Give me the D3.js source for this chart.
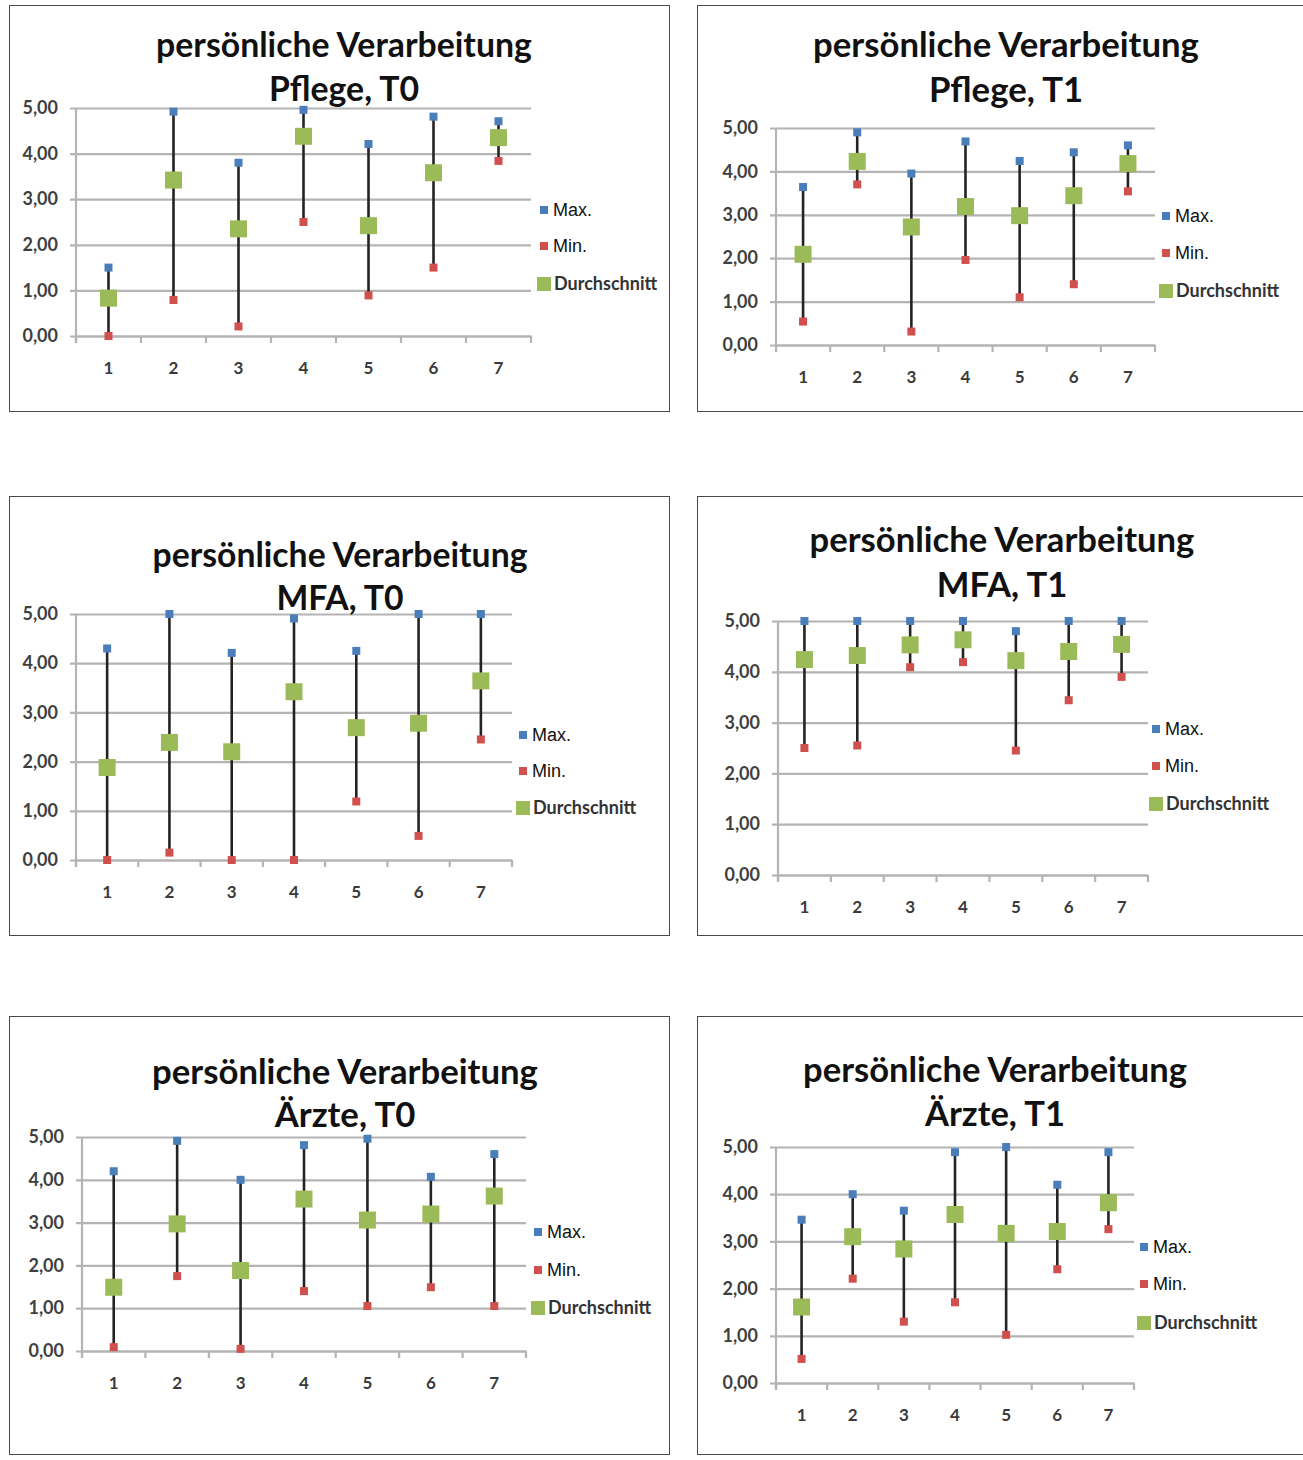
<!DOCTYPE html>
<html>
<head>
<meta charset="utf-8">
<script src="https://cdn.jsdelivr.net/npm/d3@7"></script>
<style>
  body { margin: 0; background: #fff; }
  svg { display: block; }
</style>
</head>
<body>
<svg id="chart" width="1303" height="1460"></svg>
<script>
// categories on the x axis (same for every panel)
var categories = ["1", "2", "3", "4", "5", "6", "7"];
var yTicks = [0, 1, 2, 3, 4, 5];
var seriesNames = ["Max.", "Min.", "Durchschnitt"];

var titleLine1 = "persönliche Verarbeitung";
var subTitles = ["Pflege, T0", "Pflege, T1", "MFA, T0", "MFA, T1", "Ärzte, T0", "Ärzte, T1"];

// values, one array per series and panel
var pflegeT0Max  = [1.50, 4.92, 3.80, 4.96, 4.21, 4.81, 4.71];
var pflegeT0Min  = [0.00, 0.79, 0.21, 2.50, 0.89, 1.50, 3.84];
var pflegeT0Mean = [0.83, 3.42, 2.35, 4.38, 2.42, 3.58, 4.35];

var pflegeT1Max  = [3.64, 4.90, 3.95, 4.69, 4.24, 4.44, 4.60];
var pflegeT1Min  = [0.54, 3.70, 0.31, 1.96, 1.10, 1.40, 3.54];
var pflegeT1Mean = [2.09, 4.23, 2.72, 3.19, 2.98, 3.44, 4.18];

var mfaT0Max  = [4.30, 5.00, 4.21, 4.91, 4.25, 5.00, 5.00];
var mfaT0Min  = [0.00, 0.15, 0.00, 0.00, 1.19, 0.49, 2.45];
var mfaT0Mean = [1.88, 2.39, 2.20, 3.42, 2.69, 2.78, 3.64];

var mfaT1Max  = [5.00, 5.00, 5.00, 5.00, 4.80, 5.00, 5.00];
var mfaT1Min  = [2.50, 2.55, 4.09, 4.19, 2.45, 3.44, 3.90];
var mfaT1Mean = [4.24, 4.32, 4.53, 4.63, 4.22, 4.40, 4.54];

var aerzteT0Max  = [4.20, 4.91, 4.00, 4.81, 4.96, 4.07, 4.60];
var aerzteT0Min  = [0.09, 1.75, 0.05, 1.40, 1.05, 1.49, 1.05];
var aerzteT0Mean = [1.49, 2.97, 1.88, 3.55, 3.06, 3.20, 3.62];

var aerzteT1Max  = [3.46, 4.00, 3.65, 4.89, 5.00, 4.20, 4.89];
var aerzteT1Min  = [0.51, 2.21, 1.30, 1.71, 1.02, 2.41, 3.26];
var aerzteT1Mean = [1.61, 3.10, 2.84, 3.57, 3.17, 3.21, 3.82];

var panelMax  = [pflegeT0Max, pflegeT1Max, mfaT0Max, mfaT1Max, aerzteT0Max, aerzteT1Max];
var panelMin  = [pflegeT0Min, pflegeT1Min, mfaT0Min, mfaT1Min, aerzteT0Min, aerzteT1Min];
var panelMean = [pflegeT0Mean, pflegeT1Mean, mfaT0Mean, mfaT1Mean, aerzteT0Mean, aerzteT1Mean];

var colMax = "#4a7ebb", colMin = "#d0504d", colMean = "#9bbb59";
var gridCol = "#b4b4b4";

// panel frames and plot areas (pixels)
var layout = [
  {box: [9, 5, 660, 406],     plot: [76, 531, 108, 336],   leg: [537, 210, 246, 284],    title: [344, 45, 89],     tw: 376},
  {box: [697, 5, 640, 406],   plot: [776, 1155, 128, 345], leg: [1159, 216, 253, 291],   title: [1006, 45, 90],    tw: 386},
  {box: [9, 496, 660, 439],   plot: [76, 512, 614, 860],   leg: [516, 735, 771, 808],    title: [340, 555, 598],   tw: 375},
  {box: [697, 496, 640, 439], plot: [778, 1148, 621, 875], leg: [1149, 729, 766, 804],   title: [1002, 540, 585],  tw: 385},
  {box: [9, 1016, 660, 438],  plot: [82, 526, 1137, 1351], leg: [531, 1232, 1270, 1308], title: [345, 1072, 1115], tw: 386},
  {box: [697, 1016, 640, 438],plot: [776, 1134, 1147, 1383],leg: [1137, 1247, 1284, 1323],title: [995, 1070, 1114], tw: 384}
];

var svg = d3.select("#chart");
svg.append("rect").attr("width", 1303).attr("height", 1460).attr("fill", "#fff");

var deLocale = d3.formatLocale({decimal: ",", thousands: ".", grouping: [3], currency: ["", " €"]});
var fmt = deLocale.format(".2f");

layout.forEach(function(L, i) {
  var g = svg.append("g");

  // frame
  g.append("rect")
    .attr("x", L.box[0] + 0.5).attr("y", L.box[1] + 0.5)
    .attr("width", L.box[2]).attr("height", L.box[3])
    .attr("fill", "none").attr("stroke", "#4a4a4a").attr("stroke-width", 1);

  var left = L.plot[0], right = L.plot[1], top = L.plot[2], bottom = L.plot[3];

  var x = d3.scaleBand().domain(categories).range([left, right]);
  var y = d3.scaleLinear().domain([0, 5]).range([bottom, top]);

  // gridlines + y labels
  var yAxis = d3.axisLeft(y)
    .tickValues(yTicks)
    .tickFormat(fmt)
    .tickSize(-(right - left) - 6)
    .tickPadding(12);
  var ya = g.append("g")
    .attr("transform", "translate(" + (left - 6) + ",0)")
    .call(yAxis);
  ya.select(".domain").remove();
  ya.selectAll(".tick line").attr("stroke", gridCol).attr("stroke-width", 2.2);
  ya.selectAll(".tick text")
    .attr("fill", "#3f3f3f")
    .style("font-family", "Lato, 'Open Sans', sans-serif")
    .style("font-weight", "bold")
    .style("font-size", "18px");

  // vertical axis line
  g.append("line")
    .attr("x1", left).attr("x2", left)
    .attr("y1", top).attr("y2", bottom + 7)
    .attr("stroke", gridCol).attr("stroke-width", 2.2);

  // x axis with labels at band centres
  var xa = g.append("g")
    .attr("transform", "translate(0," + bottom + ")")
    .call(d3.axisBottom(x).tickSize(0).tickPadding(26));
  xa.select(".domain").attr("stroke", gridCol).attr("stroke-width", 2.2);
  xa.selectAll(".tick text")
    .attr("fill", "#3a3a3a")
    .style("font-family", "Lato, 'Open Sans', sans-serif")
    .style("font-weight", "bold")
    .style("font-size", "17px");

  // tick marks on the band boundaries
  var bounds = categories.map(function(c) { return x(c); }).concat([x(categories[categories.length - 1]) + x.bandwidth()]);
  g.selectAll(".bt").data(bounds).enter().append("line")
    .attr("x1", function(d) { return d; }).attr("x2", function(d) { return d; })
    .attr("y1", bottom).attr("y2", bottom + 7)
    .attr("stroke", gridCol).attr("stroke-width", 2.2);

  var maxV = panelMax[i], minV = panelMin[i], meanV = panelMean[i];
  var cx = function(j) { return x(categories[j]) + x.bandwidth() / 2; };

  // high-low lines
  g.selectAll(".hl").data(categories).enter().append("line")
    .attr("x1", function(d, j) { return cx(j); })
    .attr("x2", function(d, j) { return cx(j); })
    .attr("y1", function(d, j) { return y(maxV[j]); })
    .attr("y2", function(d, j) { return y(minV[j]); })
    .attr("stroke", "#262222").attr("stroke-width", 2.6);

  function squares(vals, size, col) {
    g.selectAll(null).data(vals).enter().append("rect")
      .attr("x", function(d, j) { return cx(j) - size / 2; })
      .attr("y", function(d) { return y(d) - size / 2; })
      .attr("width", size).attr("height", size)
      .attr("fill", col);
  }
  squares(maxV, 8, colMax);
  squares(minV, 8, colMin);
  squares(meanV, 17, colMean);

  // legend
  var lx = L.leg[0];
  g.append("rect").attr("x", lx + 3).attr("y", L.leg[1] - 4).attr("width", 8).attr("height", 8).attr("fill", colMax);
  g.append("rect").attr("x", lx + 3).attr("y", L.leg[2] - 4).attr("width", 8).attr("height", 8).attr("fill", colMin);
  g.append("rect").attr("x", lx).attr("y", L.leg[3] - 7).attr("width", 14).attr("height", 14).attr("fill", colMean);
  g.append("text").attr("x", lx + 16).attr("y", L.leg[1]).attr("dy", "0.36em")
    .style("font-family", "'Liberation Sans', Arial, sans-serif").style("font-size", "18px")
    .attr("fill", "#111").text(seriesNames[0]);
  g.append("text").attr("x", lx + 16).attr("y", L.leg[2]).attr("dy", "0.36em")
    .style("font-family", "'Liberation Sans', Arial, sans-serif").style("font-size", "18px")
    .attr("fill", "#111").text(seriesNames[1]);
  g.append("text").attr("x", lx + 17).attr("y", L.leg[3]).attr("dy", "0.36em")
    .style("font-family", "Lato, 'Open Sans', sans-serif").style("font-size", "18px")
    .style("font-weight", "bold")
    .attr("fill", "#333").text(seriesNames[2]);

  // title, two lines
  var t1 = g.append("text").attr("x", L.title[0]).attr("y", L.title[1]).attr("dy", "0.35em")
    .attr("text-anchor", "middle")
    .style("font-family", "Lato, 'Open Sans', sans-serif").style("font-weight", "bold")
    .style("font-size", "30px").attr("fill", "#111").text(titleLine1);
  var w = t1.node().getComputedTextLength();
  var fs = 30 * L.tw / w;
  t1.style("font-size", fs + "px");
  g.append("text").attr("x", L.title[0]).attr("y", L.title[2]).attr("dy", "0.35em")
    .attr("text-anchor", "middle")
    .style("font-family", "Lato, 'Open Sans', sans-serif").style("font-weight", "bold")
    .style("font-size", fs + "px").attr("fill", "#111").text(subTitles[i]);
});
</script>
</body>
</html>
